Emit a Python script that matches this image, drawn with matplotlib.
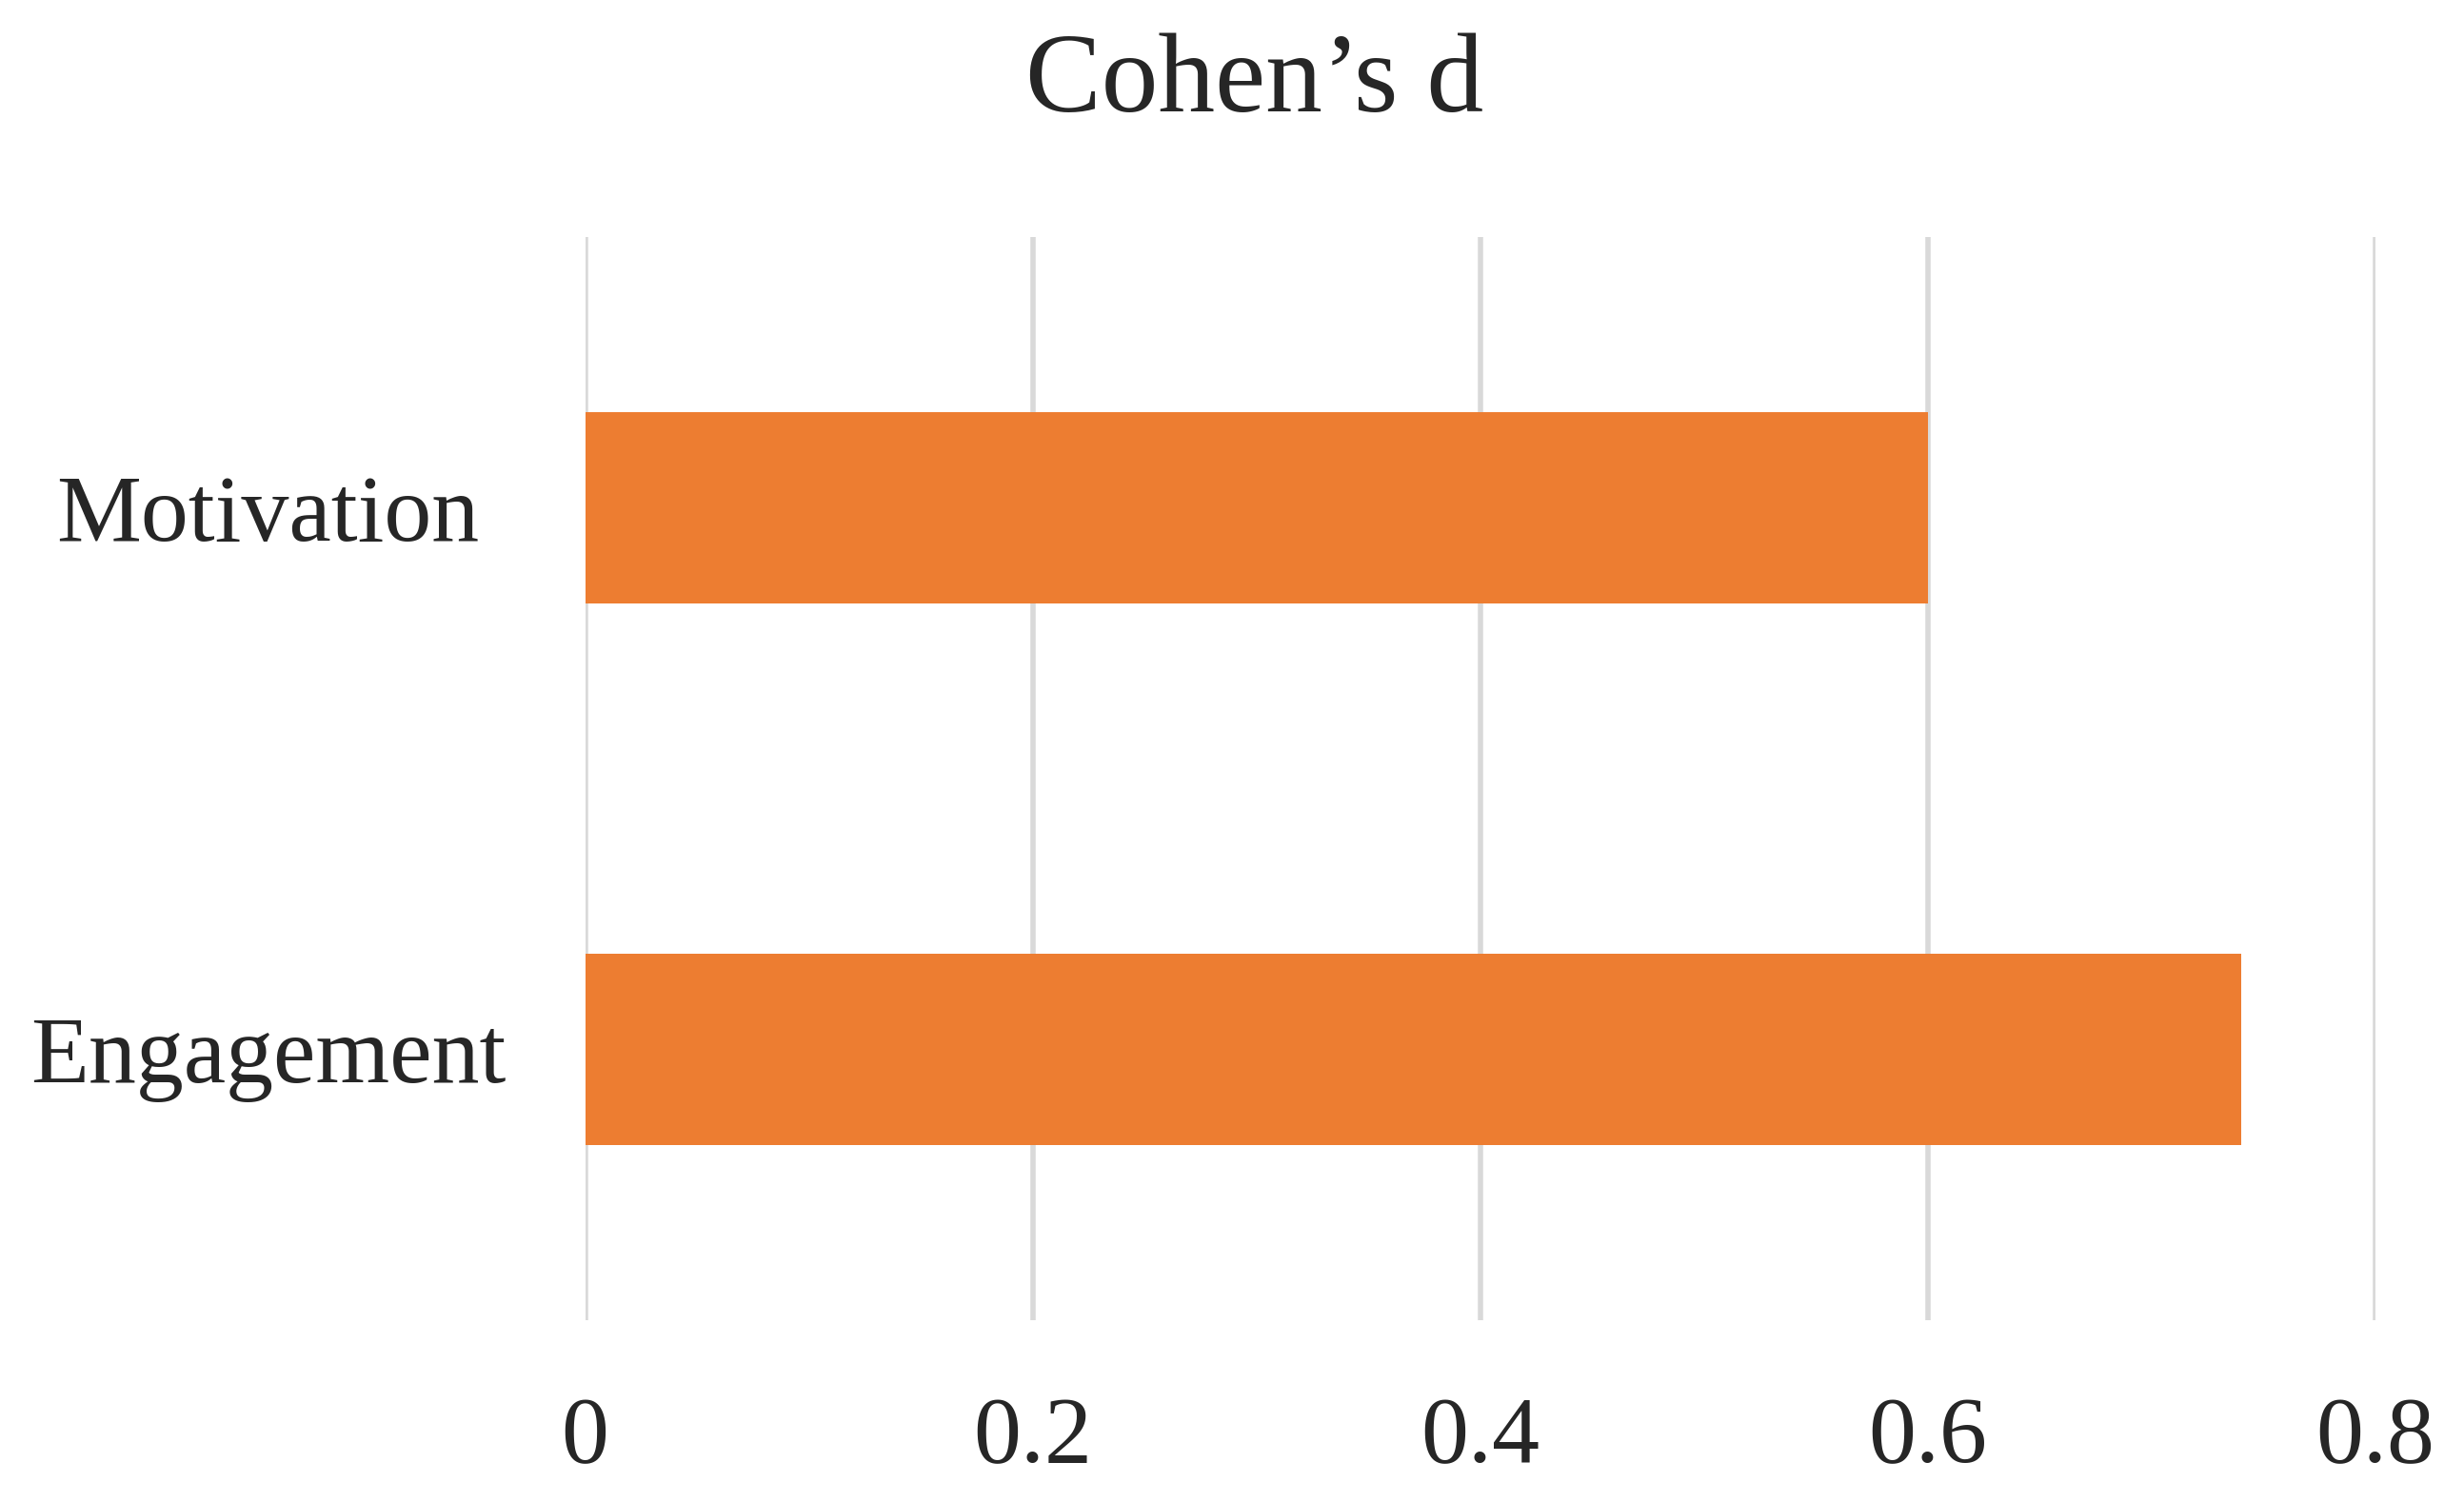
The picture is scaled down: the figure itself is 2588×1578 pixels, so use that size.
import matplotlib
matplotlib.use("Agg")
import matplotlib.pyplot as plt

categories = ["Engagement", "Motivation"]
cohens_d = [0.74, 0.60]
xticks = [0, 0.2, 0.4, 0.6, 0.8]
xtick_labels = ["0", "0.2", "0.4", "0.6", "0.8"]

plt.rcParams['font.family'] = ['Liberation Serif', 'DejaVu Serif']

fig = plt.figure(figsize=(12.94, 7.89), dpi=200)
ax = fig.add_axes([0.2375, 0.121, 0.7265, 0.721])

ax.barh(range(len(categories)), cohens_d, height=0.353, color="#ED7D31", zorder=3)

ax.set_xlim(0, 0.8)
ax.set_ylim(-0.5, 1.5)
ax.set_xticks(xticks)
ax.set_xticklabels(xtick_labels, fontsize=36, color="#262626")
ax.set_yticks(range(len(categories)))
ax.set_yticklabels(categories, fontsize=36, color="#262626", ha="center")
ax.tick_params(axis="x", length=0, pad=29)
ax.tick_params(axis="y", length=0, pad=120)

ax.grid(axis="x", color="#d9d9d9", linewidth=2.0, zorder=0)
for s in ax.spines.values():
    s.set_visible(False)

fig.text(0.509, 0.944, "Cohen\u2019s d", fontsize=43, color="#262626",
         ha="center", va="center")

fig.savefig("out.png", dpi=200, facecolor="white")
